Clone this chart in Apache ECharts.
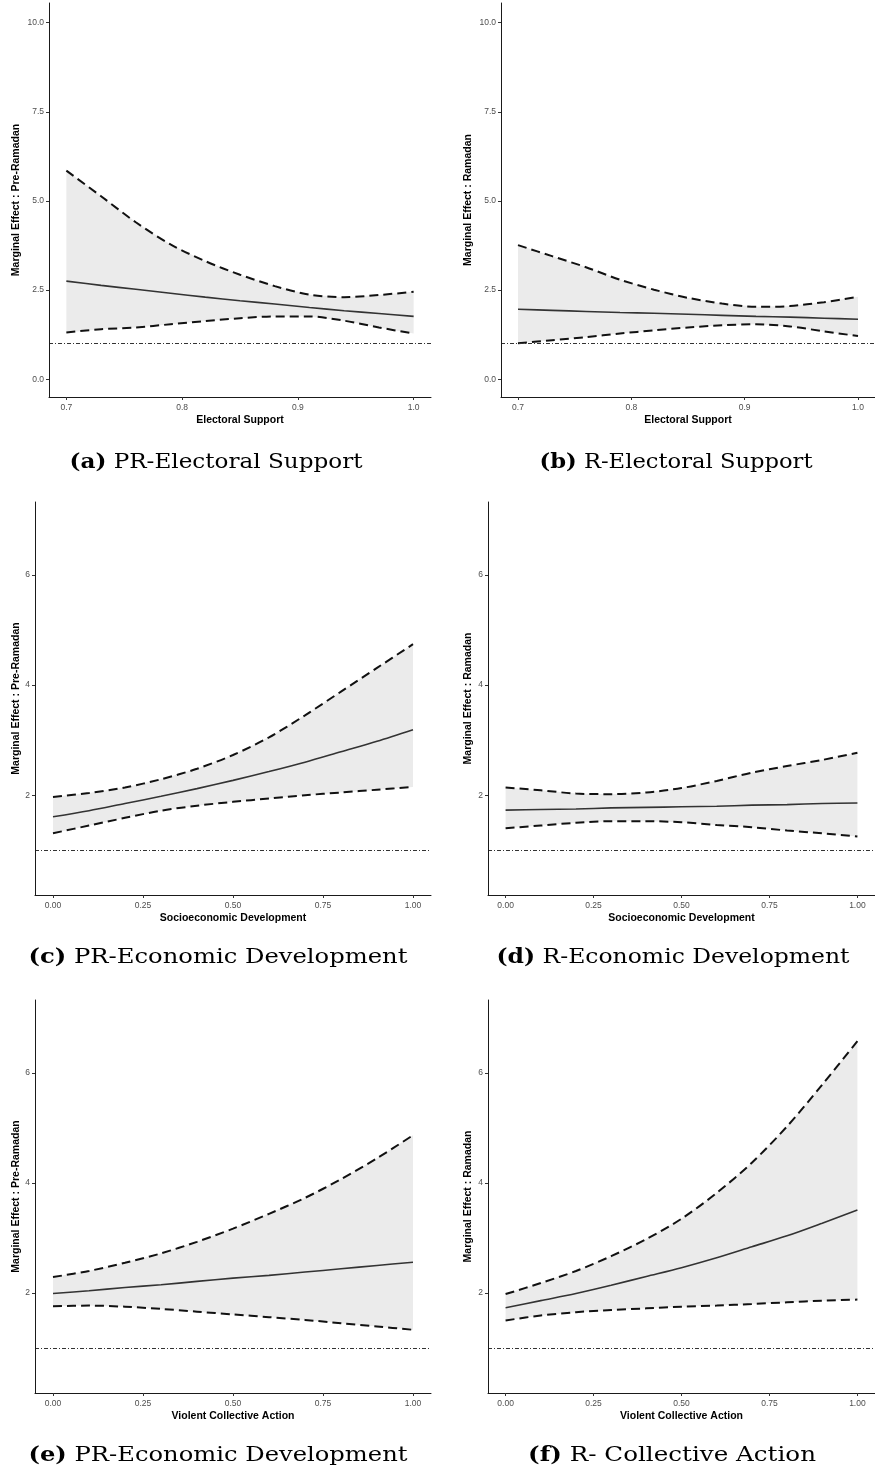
<!DOCTYPE html>
<html>
<head>
<meta charset="utf-8">
<script src="https://cdn.jsdelivr.net/npm/echarts@6/dist/echarts.min.js"></script>
<style>
html,body{margin:0;padding:0;background:#fff;}
#chart{width:875px;height:1473px;}
</style>
</head>
<body>
<div id="chart"></div>
<script>
// ---- data ----
const xElectoral = [0.70, 0.73, 0.76, 0.79, 0.82, 0.85, 0.88, 0.91, 0.94, 0.97, 1.00];
const xUnit = [0.0, 0.1, 0.2, 0.3, 0.4, 0.5, 0.6, 0.7, 0.8, 0.9, 1.0];

// (a) PR-Electoral Support
const aUpper = [5.85, 5.13, 4.40, 3.78, 3.31, 2.93, 2.61, 2.37, 2.30, 2.36, 2.45];
const aMean  = [2.75, 2.63, 2.52, 2.41, 2.30, 2.20, 2.11, 2.01, 1.92, 1.84, 1.76];
const aLower = [1.31, 1.40, 1.45, 1.54, 1.63, 1.71, 1.76, 1.76, 1.64, 1.45, 1.28];
// (b) R-Electoral Support
const bUpper = [3.76, 3.45, 3.14, 2.79, 2.51, 2.28, 2.12, 2.03, 2.05, 2.16, 2.31];
const bMean  = [1.96, 1.93, 1.90, 1.87, 1.85, 1.82, 1.79, 1.76, 1.74, 1.71, 1.68];
const bLower = [1.01, 1.09, 1.18, 1.28, 1.37, 1.45, 1.51, 1.54, 1.48, 1.34, 1.21];
// (c) PR-Economic Development
const cUpper = [1.97, 2.04, 2.14, 2.29, 2.48, 2.73, 3.05, 3.45, 3.88, 4.31, 4.74];
const cMean  = [1.61, 1.72, 1.85, 1.98, 2.12, 2.27, 2.43, 2.60, 2.79, 2.98, 3.19];
const cLower = [1.31, 1.45, 1.59, 1.72, 1.81, 1.88, 1.94, 2.00, 2.05, 2.10, 2.15];
// (d) R-Economic Development
const dUpper = [2.14, 2.09, 2.03, 2.02, 2.05, 2.13, 2.26, 2.41, 2.53, 2.64, 2.77];
const dMean  = [1.73, 1.74, 1.75, 1.77, 1.78, 1.79, 1.80, 1.82, 1.83, 1.85, 1.86];
const dLower = [1.40, 1.45, 1.50, 1.53, 1.53, 1.51, 1.46, 1.42, 1.36, 1.31, 1.25];
// (e) PR-Economic Development (Violent Collective Action)
const eUpper = [2.29, 2.40, 2.55, 2.72, 2.93, 3.17, 3.44, 3.73, 4.07, 4.45, 4.87];
const eMean  = [1.99, 2.04, 2.10, 2.15, 2.21, 2.27, 2.32, 2.38, 2.44, 2.50, 2.56];
const eLower = [1.76, 1.77, 1.75, 1.71, 1.66, 1.61, 1.56, 1.51, 1.45, 1.39, 1.33];
// (f) R- Collective Action
const fUpper = [1.98, 2.18, 2.40, 2.67, 2.98, 3.35, 3.82, 4.37, 5.03, 5.79, 6.58];
const fMean  = [1.73, 1.86, 1.99, 2.14, 2.30, 2.46, 2.64, 2.84, 3.04, 3.27, 3.51];
const fLower = [1.50, 1.59, 1.65, 1.69, 1.72, 1.75, 1.77, 1.80, 1.83, 1.86, 1.88];

const refValue = 1;
const ticksElectoralX = [0.7, 0.8, 0.9, 1.0];
const ticksUnitX = [0.00, 0.25, 0.50, 0.75, 1.00];
const ticksYTop = [0.0, 2.5, 5.0, 7.5, 10.0];
const ticksYLow = [2, 4, 6];

const xTitles = ['Electoral Support', 'Electoral Support', 'Socioeconomic Development', 'Socioeconomic Development', 'Violent Collective Action', 'Violent Collective Action'];
const yTitles = ['Marginal Effect : Pre-Ramadan', 'Marginal Effect : Ramadan', 'Marginal Effect : Pre-Ramadan', 'Marginal Effect : Ramadan', 'Marginal Effect : Pre-Ramadan', 'Marginal Effect : Ramadan'];
const captionTags = ['(a)', '(b)', '(c)', '(d)', '(e)', '(f)'];
const captionTexts = ['PR-Electoral Support', 'R-Electoral Support', 'PR-Economic Development', 'R-Economic Development', 'PR-Economic Development', 'R- Collective Action'];

// ---- layout (positions/styles) ----
const panels = [
  {x: xElectoral, up: aUpper, mid: aMean, lo: aLower, xt: ticksElectoralX, yt: ticksYTop, xd: 1, yd: 1,
   xmin: 0.685, xmax: 1.015, ymin: -0.5, ymax: 10.55, grid: {left: 49, top: 3, width: 382, height: 394}, yGap: 27, cap: [216, 463, 293]},
  {x: xElectoral, up: bUpper, mid: bMean, lo: bLower, xt: ticksElectoralX, yt: ticksYTop, xd: 1, yd: 1,
   xmin: 0.685, xmax: 1.015, ymin: -0.5, ymax: 10.55, grid: {left: 501, top: 3, width: 383, height: 394}, yGap: 27, cap: [676, 463, 273]},
  {x: xUnit, up: cUpper, mid: cMean, lo: cLower, xt: ticksUnitX, yt: ticksYLow, xd: 2, yd: 0,
   xmin: -0.05, xmax: 1.05, ymin: 0.19, ymax: 7.32, grid: {left: 35, top: 502, width: 396, height: 393}, yGap: 13, cap: [218, 958, 379]},
  {x: xUnit, up: dUpper, mid: dMean, lo: dLower, xt: ticksUnitX, yt: ticksYLow, xd: 2, yd: 0,
   xmin: -0.05, xmax: 1.05, ymin: 0.19, ymax: 7.32, grid: {left: 488, top: 502, width: 397, height: 393}, yGap: 14, cap: [673, 958, 353]},
  {x: xUnit, up: eUpper, mid: eMean, lo: eLower, xt: ticksUnitX, yt: ticksYLow, xd: 2, yd: 0,
   xmin: -0.05, xmax: 1.05, ymin: 0.18, ymax: 7.33, grid: {left: 35, top: 1000, width: 396, height: 393}, yGap: 13, cap: [218, 1456, 379]},
  {x: xUnit, up: fUpper, mid: fMean, lo: fLower, xt: ticksUnitX, yt: ticksYLow, xd: 2, yd: 0,
   xmin: -0.05, xmax: 1.05, ymin: 0.18, ymax: 7.33, grid: {left: 488, top: 1000, width: 397, height: 393}, yGap: 14, cap: [672, 1456, 288]}
];

const sans = '"Liberation Sans", Arial, sans-serif';
const serif = '"DejaVu Serif", "Liberation Serif", serif';
const capSize = 20;
const zip = (xs, ys) => xs.map((v, i) => [v, ys[i]]);

// natural caption widths, used to stretch captions to the reference width
const mctx = document.createElement('canvas').getContext('2d');
function captionWidth(tag, txt) {
  mctx.font = 'bold ' + capSize + 'px ' + serif;
  const w1 = mctx.measureText(tag).width;
  mctx.font = capSize + 'px ' + serif;
  return w1 + mctx.measureText(' ' + txt).width;
}

const grids = [], xAxes = [], yAxes = [], series = [], graphics = [];
panels.forEach((p, i) => {
  grids.push(Object.assign({containLabel: false}, p.grid));
  const axisLine = {show: true, onZero: false, lineStyle: {color: '#1a1a1a', width: 1}};
  const axisTick = (vals) => ({show: true, length: 3, customValues: vals, lineStyle: {color: '#333', width: 1}});
  xAxes.push({
    type: 'value', gridIndex: i, min: p.xmin, max: p.xmax, z: 10,
    axisLine, axisTick: axisTick(p.xt), splitLine: {show: false},
    axisLabel: {customValues: p.xt, formatter: v => Number(v).toFixed(p.xd), color: '#4d4d4d', fontSize: 8.5, fontFamily: sans, margin: 6},
    name: xTitles[i], nameLocation: 'middle', nameGap: 18,
    nameTextStyle: {fontFamily: sans, fontWeight: 'bold', fontSize: 10.5, color: '#000'}
  });
  yAxes.push({
    type: 'value', gridIndex: i, min: p.ymin, max: p.ymax, z: 10,
    axisLine, axisTick: axisTick(p.yt), splitLine: {show: false},
    axisLabel: {customValues: p.yt, formatter: v => Number(v).toFixed(p.yd), color: '#4d4d4d', fontSize: 8.5, fontFamily: sans, margin: 5},
    name: yTitles[i], nameLocation: 'middle', nameGap: p.yGap,
    nameTextStyle: {fontFamily: sans, fontWeight: 'bold', fontSize: 10.5, color: '#000'}
  });
  // confidence band (polygon through upper then reversed lower)
  series.push({
    type: 'custom', xAxisIndex: i, yAxisIndex: i, silent: true, animation: false, z: 1, clip: false,
    data: [[p.x[0], p.lo[0]]],
    renderItem: (params, api) => {
      const pts = [];
      p.x.forEach((xv, k) => pts.push(api.coord([xv, p.up[k]])));
      for (let k = p.x.length - 1; k >= 0; k--) pts.push(api.coord([p.x[k], p.lo[k]]));
      return {type: 'polygon', shape: {points: pts}, style: {fill: '#ebebeb', stroke: null}};
    }
  });
  const common = {type: 'line', xAxisIndex: i, yAxisIndex: i, symbol: 'none', smooth: 0.3, silent: true, animation: false};
  series.push(Object.assign({}, common, {
    data: zip(p.x, p.up), z: 3, lineStyle: {color: '#111', width: 2, type: [9, 5]}
  }));
  series.push(Object.assign({}, common, {
    data: zip(p.x, p.lo), z: 3, lineStyle: {color: '#111', width: 2, type: [9, 5]}
  }));
  series.push(Object.assign({}, common, {
    data: zip(p.x, p.mid), lineStyle: {color: '#333', width: 1.6}, z: 4,
    markLine: {silent: true, symbol: ['none', 'none'], label: {show: false}, animation: false,
      lineStyle: {color: '#333', width: 1, type: [4, 2, 1, 2]},
      data: [{yAxis: refValue}]}
  }));
  const natural = captionWidth(captionTags[i], captionTexts[i]);
  graphics.push({
    type: 'text', x: p.cap[0], y: p.cap[1], scaleX: p.cap[2] / natural,
    style: {
      text: '{b|' + captionTags[i] + '} ' + captionTexts[i],
      align: 'center', verticalAlign: 'middle',
      fontFamily: serif, fontSize: capSize, fill: '#000',
      rich: {b: {fontFamily: serif, fontSize: capSize, fontWeight: 'bold', fill: '#000'}}
    }
  });
});

const chart = echarts.init(document.getElementById('chart'), null, {renderer: 'canvas'});
chart.setOption({
  animation: false,
  backgroundColor: '#fff',
  grid: grids, xAxis: xAxes, yAxis: yAxes, series: series, graphic: graphics
});
</script>
</body>
</html>
